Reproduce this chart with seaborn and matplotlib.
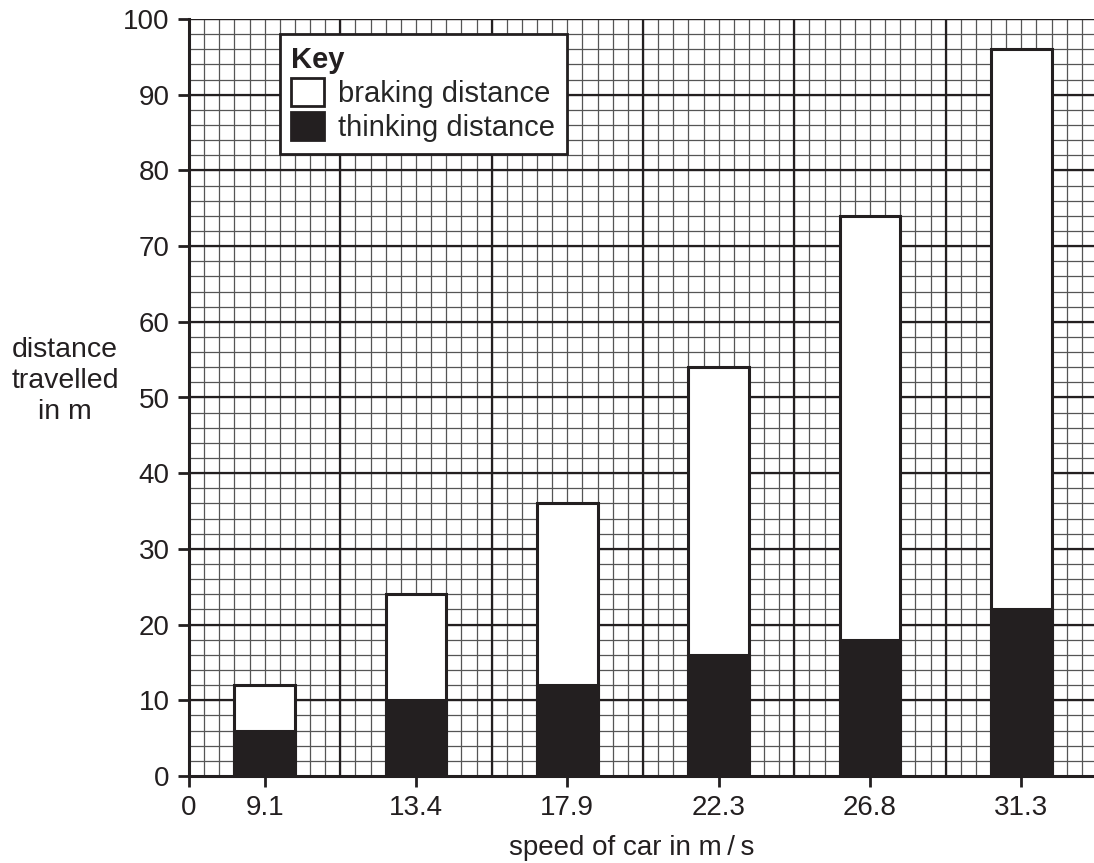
import numpy as np
import pandas as pd
import matplotlib
matplotlib.use("Agg")
import matplotlib.pyplot as plt
from matplotlib.patches import Patch
import seaborn as sns

# --------- DATA ----------
speeds = ["9.1", "13.4", "17.9", "22.3", "26.8", "31.3"]
thinking = [6, 10, 12, 16, 18, 22]
total = [12, 24, 36, 54, 74, 96]

df = pd.DataFrame({"speed": speeds, "thinking": thinking, "total": total})

sns.set_style("white")
plt.rcParams["font.family"] = ["Liberation Sans", "DejaVu Sans"]

ink = "#231f20"
fs = 20

fig = plt.figure(figsize=(10.94, 8.63), dpi=100)
ax = fig.add_axes([189 / 1094, 87 / 863, 1 - 189 / 1094, (776 - 19) / 863])

# --------- BARS ----------
sns.barplot(data=df, x="speed", y="total", color="white", width=0.4,
            edgecolor=ink, linewidth=2.2, saturation=1, ax=ax, zorder=3)
sns.barplot(data=df, x="speed", y="thinking", color=ink, width=0.4,
            edgecolor=ink, linewidth=2.2, saturation=1, ax=ax, zorder=4)

# --------- GRID ----------
xmax = 5.48
ax.set_xlim(-0.5, xmax)
ax.set_ylim(0, 100)
ax.set_axisbelow(True)

for x in np.arange(-0.5, xmax, 0.1):
    ax.axvline(x, color="#555555", lw=0.9, zorder=0)
for y in np.arange(0, 101, 2):
    ax.axhline(y, color="#555555", lw=0.9, zorder=0)
for x in np.arange(0.5, xmax, 1.0):
    ax.axvline(x, color=ink, lw=1.6, zorder=1)
for y in np.arange(10, 101, 10):
    ax.axhline(y, color=ink, lw=1.6, zorder=1)

# --------- AXES ----------
ax.set_xticks([-0.5] + list(range(len(speeds))))
ax.set_xticklabels(["0"] + speeds)
ax.set_yticks(range(0, 101, 10))
ax.tick_params(axis="both", direction="out", length=8, width=2, color=ink,
               labelsize=fs, labelcolor=ink, pad=6, bottom=True, left=True)
for side in ["top", "right"]:
    ax.spines[side].set_visible(False)
for side in ["left", "bottom"]:
    ax.spines[side].set_color(ink)
    ax.spines[side].set_linewidth(2.2)
    ax.spines[side].set_zorder(5)
ax.set_xlabel("")
ax.set_ylabel("")

fig.text(632 / 1094, 1 - 848 / 863, "speed of car in m\u2009/\u2009s",
         ha="center", va="center", fontsize=fs, color=ink)
fig.text(65 / 1094, 1 - 381 / 863, "distance\ntravelled\nin m",
         ha="center", va="center", fontsize=20.5, color=ink, linespacing=1.27)

# --------- LEGEND ----------
handles = [Patch(facecolor="white", edgecolor=ink, linewidth=2),
           Patch(facecolor=ink, edgecolor=ink, linewidth=2)]
leg = ax.legend(handles, ["braking distance", "thinking distance"],
                title="Key", loc="upper left", bbox_to_anchor=(0.1, 98),
                bbox_transform=ax.transData, fontsize=21, title_fontsize=21,
                alignment="left", fancybox=False, framealpha=1,
                edgecolor=ink, handlelength=1.1, handleheight=1.1,
                handletextpad=0.5, borderpad=0.4, labelspacing=0.15,
                borderaxespad=0)
leg.get_title().set_fontweight("bold")
leg.get_title().set_color(ink)
leg.get_frame().set_linewidth(2)
leg.set_zorder(6)

fig.savefig("out.png", dpi=100)
